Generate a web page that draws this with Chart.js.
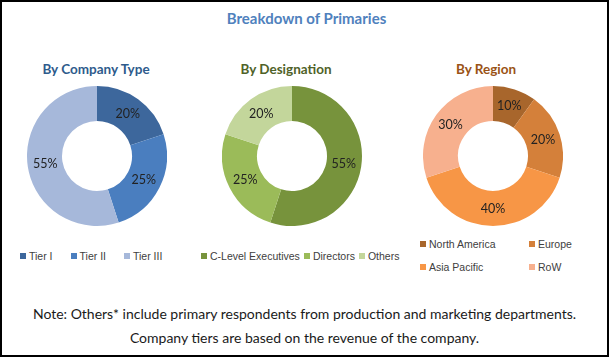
<!DOCTYPE html>
<html>
<head>
<meta charset="utf-8">
<script src="https://cdn.jsdelivr.net/npm/chart.js@4/dist/chart.umd.min.js"></script>
<style>
  html, body { margin: 0; padding: 0; background: #fff; }
  #frame { position: relative; width: 609px; height: 357px; box-sizing: border-box; border: 2px solid #000; background: #fff; overflow: hidden; font-family: Lato, "Open Sans", sans-serif; }
  .abs { position: absolute; }
  #title { left: 0; width: 609px; top: 7px; text-align: center; font-weight: bold; font-size: 15px; color: #4F81BD; }
  .sub { font-weight: bold; font-size: 13.5px; text-align: center; width: 200px; top: 59px; }
  .legend { display: flex; align-items: center; font-family: "Liberation Sans", Arial, sans-serif; font-size: 10.5px; color: #404040; white-space: nowrap; }
  .legend .item { display: flex; align-items: center; }
  .legend .sw { width: 6px; height: 6px; margin-right: 3px; }
  .grid { display: grid; grid-template-columns: 109px 109px; row-gap: 11px; }
  .note { left: 0; width: 605px; text-align: center; font-family: Lato, "Open Sans", sans-serif; font-size: 14px; color: #1a1a1a; white-space: nowrap; }
</style>
</head>
<body>
<div id="frame">
  <div id="title" class="abs">Breakdown of Primaries</div>
  <div class="abs sub" style="left:-6px;color:#2E5B8C">By Company Type</div>
  <div class="abs sub" style="left:184px;color:#4F6228">By Designation</div>
  <div class="abs sub" style="left:384px;color:#9A5316">By Region</div>

  <canvas id="c1" class="abs" width="140" height="140" style="left:25px;top:84px;width:140px;height:140px"></canvas>
  <canvas id="c2" class="abs" width="140" height="140" style="left:220px;top:84px;width:140px;height:140px"></canvas>
  <canvas id="c3" class="abs" width="140" height="140" style="left:421px;top:84px;width:140px;height:140px"></canvas>

  <div id="l1" class="abs legend" style="left:18px;top:248px;gap:18px"></div>
  <div id="l2" class="abs legend" style="left:199px;top:248px;gap:4px"></div>
  <div id="l3" class="abs legend grid" style="left:418px;top:236px"></div>

  <div class="abs note" id="n1" style="top:303px">Note: Others* include primary respondents from production and marketing departments.</div>
  <div class="abs note" id="n2" style="top:327px">Company tiers are based on the revenue of the company.</div>
</div>
<script>
// ---- Data ----
const companyLabels = ["Tier I", "Tier II", "Tier III"];
const companyValues = [20, 25, 55];
const designationLabels = ["C-Level Executives", "Directors", "Others"];
const designationValues = [55, 25, 20];
const regionLabels = ["North America", "Europe", "Asia Pacific", "RoW"];
const regionValues = [10, 20, 40, 30];

// ---- Styles ----
const companyColors = ["#3D679C", "#4A7EBF", "#A6B8DA"];
const designationColors = ["#77933C", "#9BBB59", "#C3D69B"];
const regionColors = ["#A8662C", "#D4803A", "#F79646", "#F7B08E"];

const pctLabels = {
  id: 'pctLabels',
  afterDatasetsDraw(chart) {
    const ctx = chart.ctx;
    const meta = chart.getDatasetMeta(0);
    const data = chart.data.datasets[0].data;
    ctx.save();
    ctx.font = '12.5px Lato, "Open Sans", sans-serif';
    ctx.fillStyle = '#222';
    ctx.textAlign = 'center';
    ctx.textBaseline = 'middle';
    meta.data.forEach((arc, i) => {
      const p = arc.tooltipPosition();
      ctx.fillText(data[i] + '%', p.x, p.y);
    });
    ctx.restore();
  }
};

function makeDonut(id, labels, values, colors) {
  return new Chart(document.getElementById(id), {
    type: 'doughnut',
    data: { labels: labels, datasets: [{ data: values, backgroundColor: colors, borderWidth: 0, hoverOffset: 0 }] },
    options: {
      responsive: false,
      animation: false,
      cutout: '50%',
      layout: { padding: 0 },
      plugins: { legend: { display: false }, tooltip: { enabled: false } }
    },
    plugins: [pctLabels]
  });
}

function makeLegend(id, labels, colors) {
  const el = document.getElementById(id);
  labels.forEach((lab, i) => {
    const it = document.createElement('div');
    it.className = 'item';
    const sw = document.createElement('span');
    sw.className = 'sw';
    sw.style.background = colors[i];
    const tx = document.createElement('span');
    tx.textContent = lab;
    it.appendChild(sw); it.appendChild(tx);
    el.appendChild(it);
  });
}

makeDonut('c1', companyLabels, companyValues, companyColors);
makeDonut('c2', designationLabels, designationValues, designationColors);
makeDonut('c3', regionLabels, regionValues, regionColors);
makeLegend('l1', companyLabels, companyColors);
makeLegend('l2', designationLabels, designationColors);
makeLegend('l3', regionLabels, regionColors);
</script>
</body>
</html>
